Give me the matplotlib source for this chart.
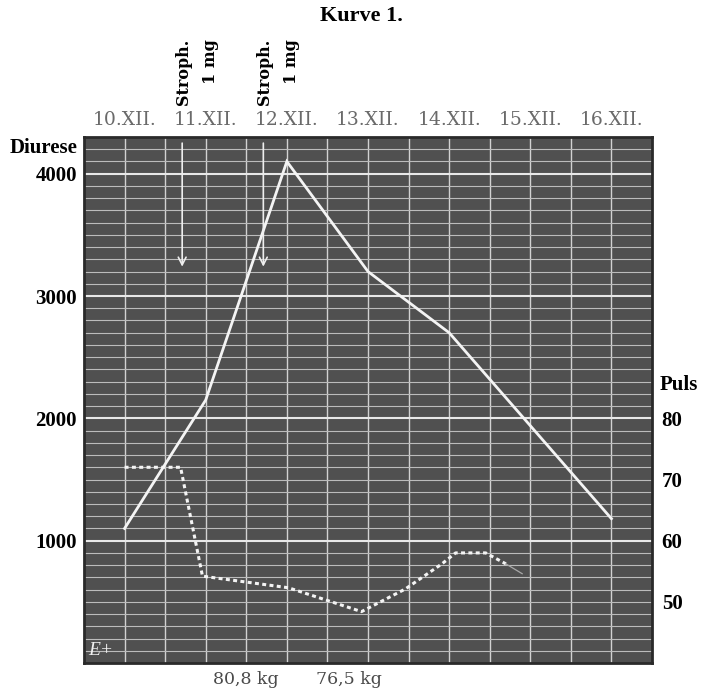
import matplotlib
matplotlib.use("Agg")
import matplotlib.pyplot as plt
from matplotlib.transforms import blended_transform_factory

# ---------------- data ----------------
day_labels = ["10.XII.", "11.XII.", "12.XII.", "13.XII.", "14.XII.", "15.XII.", "16.XII."]
day_pos = [0, 1, 2, 3, 4, 5, 6]

diurese_x = [0, 1, 2, 3, 4, 6]
diurese = [1100, 2150, 4100, 3200, 2700, 1180]

pulse_x = [0, 0.69, 0.96, 2.02, 2.92, 3.46, 3.91, 4.08, 4.45, 4.70]
pulse = [72, 72, 54.2, 52.3, 48.4, 52.1, 56.2, 58, 58, 56.2]
pulse_tail_x = [4.70, 4.90]
pulse_tail = [56.2, 54.6]

diurese_ticks = [1000, 2000, 3000, 4000]
pulse_ticks = [50, 60, 70, 80]

stroph_x = [0.71, 1.71]
stroph_top = 4250
stroph_tip = 3240

weights = ["80,8 kg", "76,5 kg"]
weight_x = [1.5, 2.77]

# ---------------- figure ----------------
W, H = 704, 691
fig = plt.figure(figsize=(W / 100, H / 100), dpi=100)
fig.patch.set_facecolor("white")

left, right, top, bottom = 84, 652, 137, 663
ax = fig.add_axes([left / W, 1 - bottom / H, (right - left) / W, (bottom - top) / H])
ax.set_facecolor("#505050")
ax.set_xlim(-0.5, 6.5)
ax.set_ylim(0, 4300)

# grid
for i in range(1, 14):
    xv = -0.5 + 0.5 * i
    ax.axvline(xv, color="#d2d2d2", lw=1.0, zorder=1)
for v in range(100, 4300, 100):
    if v % 1000 == 0:
        ax.axhline(v, color="#e8e8e8", lw=1.5, zorder=1.2)
    else:
        ax.axhline(v, color="#bcbcbc", lw=0.8, zorder=1)

for s in ax.spines.values():
    s.set_color("#2a2a2a")
    s.set_linewidth(2)

# diurese line
ax.plot(diurese_x, diurese, color="#f4f4f4", lw=2.0, zorder=5, solid_joinstyle="miter")

# pulse on twin axis
ax2 = ax.twinx()
ax2.set_ylim(40, 126)
ax2.plot(pulse_x, pulse, color="#f4f4f4", lw=2.2, dashes=(1.3, 1.1), zorder=5)
ax2.plot(pulse_tail_x, pulse_tail, color="#a8a8a8", lw=0.9, zorder=5)
for s in ax2.spines.values():
    s.set_visible(False)

# arrows
for xs in stroph_x:
    ax.annotate("", xy=(xs, stroph_tip), xytext=(xs, stroph_top),
                arrowprops=dict(arrowstyle="->,head_length=0.55,head_width=0.28",
                                color="#eeeeee", lw=1.2, shrinkA=0, shrinkB=0), zorder=6)

# ticks / labels
ax.set_yticks(diurese_ticks)
ax.set_yticklabels([str(t) for t in diurese_ticks], fontfamily="Liberation Serif",
                   fontweight="bold", fontsize=15)
ax.tick_params(axis="y", length=0, pad=5)
ax.xaxis.tick_top()
ax.set_xticks(day_pos)
ax.set_xticklabels(day_labels, fontfamily="DejaVu Serif", fontsize=13.5, color="#6a6a6a")
ax.tick_params(axis="x", length=0, pad=6)

ax2.set_yticks(pulse_ticks)
ax2.set_yticklabels([str(t) for t in pulse_ticks], fontfamily="Liberation Serif",
                    fontweight="bold", fontsize=15)
ax2.tick_params(axis="y", length=0, pad=7)

# axis titles
fig.text(77 / W, 1 - 148 / H, "Diurese", ha="right", va="center",
         fontfamily="Liberation Serif", fontweight="bold", fontsize=15)
fig.text(660 / W, 1 - 385 / H, "Puls", ha="left", va="center",
         fontfamily="Liberation Serif", fontweight="bold", fontsize=15)

# title
fig.text(361 / W, 1 - 16 / H, "Kurve 1.", ha="center", va="center",
         fontfamily="Liberation Serif", fontweight="bold", fontsize=16)

# Stroph annotations above
tr = blended_transform_factory(ax.transData, fig.transFigure)
for xs in stroph_x:
    ax.text(xs + 0.02, 1 - 72 / H, "Stroph.", transform=tr, rotation=90, ha="center", va="center",
            fontfamily="DejaVu Serif", fontweight="bold", fontsize=11.5)
    ax.text(xs + 0.35, 1 - 62 / H, "1 mg", transform=tr, rotation=90, ha="center", va="center",
            fontfamily="DejaVu Serif", fontweight="bold", fontsize=11.5)

# weights below
for wx, wt in zip(weight_x, weights):
    ax.text(wx, 1 - 679 / H, wt, transform=tr, ha="center", va="center",
            fontfamily="DejaVu Serif", fontsize=12.5, color="#4a4a4a")

# E+ mark
ax.text(-0.45, 100, "E+", ha="left", va="center", color="#f0f0f0",
        fontfamily="Liberation Serif", fontstyle="italic", fontsize=14, zorder=6)

fig.savefig("out.png", dpi=100)
